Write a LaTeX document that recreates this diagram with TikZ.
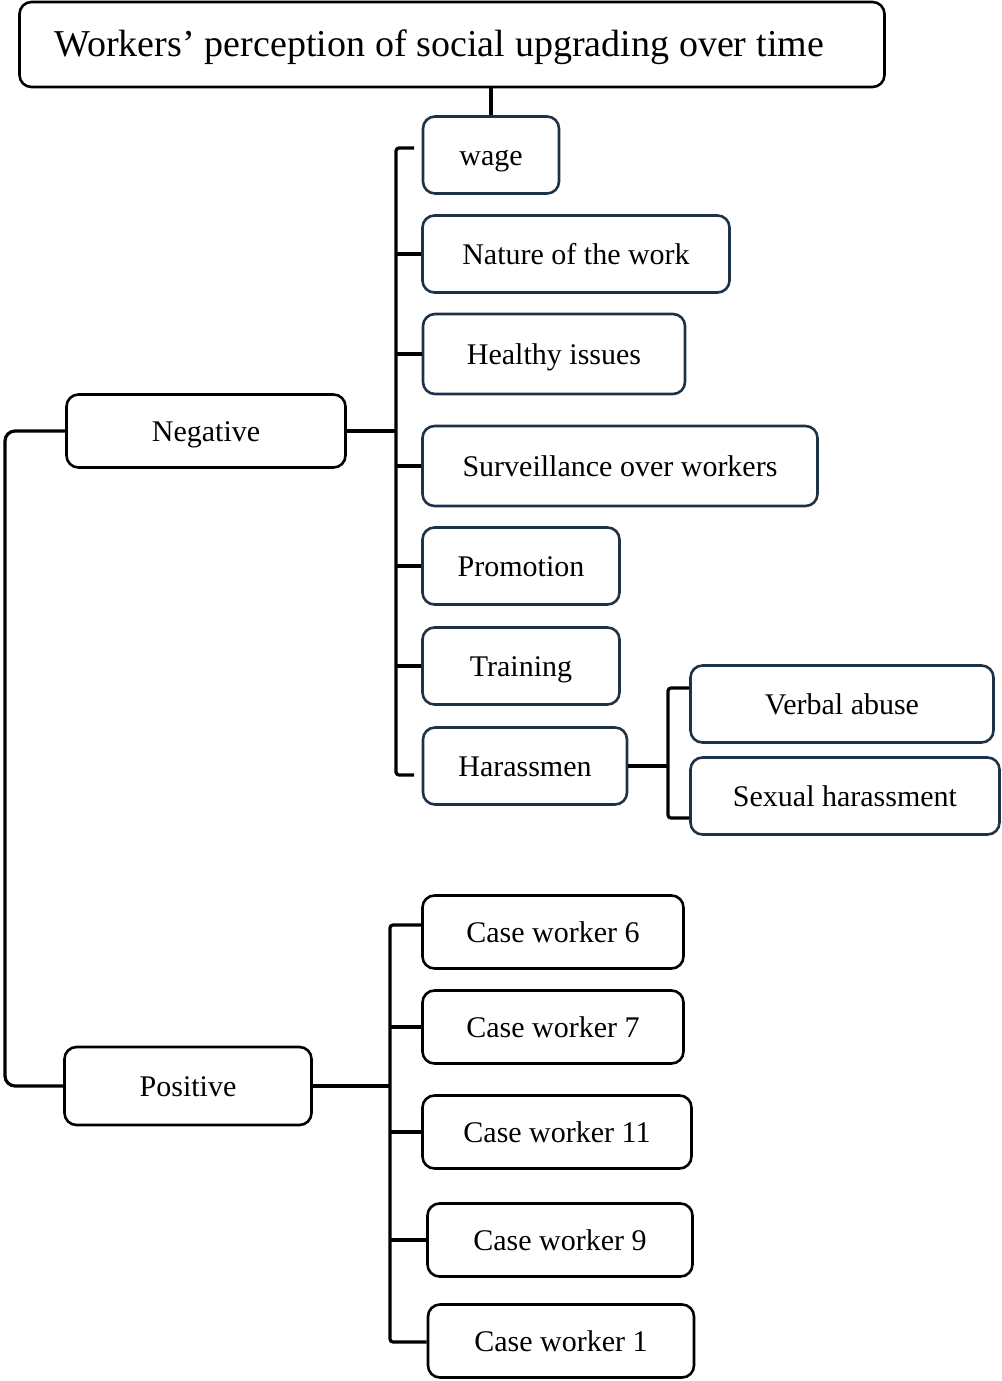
\documentclass[tikz,border=0pt]{standalone}
\usepackage{fontspec}
\setmainfont{Liberation Serif}
\usepackage{xcolor}
\usepackage{tikz}
\usetikzlibrary{positioning}
\definecolor{navyline}{RGB}{30,50,70}
\def\lw{2.6pt}
\def\negX{396}
\def\posX{390}

\begin{document}
\begin{tikzpicture}[
    x=1pt, y=-1pt,
    line width=\lw,
    every node/.style={draw, rounded corners=12pt, inner sep=0pt, text height=24pt, text depth=4pt,
                       font=\fontsize{30}{34}\selectfont},
    subbox/.style={draw=navyline, minimum height=77},
    casebox/.style={draw=black, minimum height=73},
    sidebox/.style={draw=black, minimum height=75},
    link/.style={line width=3.2pt}
]
\useasboundingbox (0,0) rectangle (1001,1381);

% root
\node[minimum width=865, minimum height=85, text width=795, inner xsep=35, align=left,
      text height=30pt, text depth=6pt, font=\fontsize{38}{42}\selectfont] (title) at (452,44.5)
      {\spaceskip=0.26em plus 0.05em Workers’ perception of social upgrading over time};

% the two sides
\node[sidebox, minimum width=279, minimum height=73] (neg) at (206,431) {Negative};
\node[sidebox, minimum width=247, minimum height=78] (pos) at (188,1086) {Positive};

% negative items
\node[subbox, minimum width=136] (wage) at (491,155) {wage};
\node[subbox, minimum width=307] (nature) at (576,254) {Nature of the work};
\node[subbox, minimum width=262, minimum height=80] (health) at (554,354) {Healthy issues};
\node[subbox, minimum width=395, minimum height=80] (surv) at (620,466) {Surveillance over workers};
\node[subbox, minimum width=197] (promo) at (521,566) {Promotion};
\node[subbox, minimum width=197] (train) at (521,666) {Training};
\node[subbox, minimum width=204] (harass) at (525,766) {Harassmen};
\node[subbox, minimum width=303] (verbal) at (842,704) {Verbal abuse};
\node[subbox, minimum width=309] (sexual) at (845,796) {Sexual harassment};

% positive items
\node[casebox, minimum width=261] (cw6) at (553,932) {Case worker 6};
\node[casebox, minimum width=261] (cw7) at (553,1027) {Case worker 7};
\node[casebox, minimum width=269] (cw11) at (557,1132) {Case worker 11};
\node[casebox, minimum width=265] (cw9) at (560,1240) {Case worker 9};
\node[casebox, minimum width=266] (cw1) at (561,1341) {Case worker 1};

\coordinate (ntop) at (\negX,148);
\coordinate (nbot) at (\negX,775);
\coordinate (ntopend) at (414,148);
\coordinate (nbotend) at (414,775);
\coordinate (htop) at (668,688);
\coordinate (hbot) at (668,818);
\coordinate (ptop) at (\posX,925);
\coordinate (pbot) at (\posX,1342);
\coordinate (lbus) at (5,760);

\draw[link] (wage.north) -- (wage.north |- title.south);
\draw[link, rounded corners=10pt] (neg.west) -| (lbus) |- (pos.west);

% negative bracket
\draw[link, rounded corners=3pt] (ntopend) -- (ntop) -- (nbot) -- (nbotend);
\draw[link] (neg.east) -- (neg.east -| ntop);
\foreach \n in {nature, health, surv, promo, train}
    \draw[link] (\n.west) -- (\n.west -| ntop);

% harassment bracket
\draw[link, rounded corners=3pt] (verbal.west |- htop) -- (htop) -- (hbot) -- (sexual.west |- hbot);
\draw[link] (harass.east) -- (harass.east -| htop);

% positive bracket
\draw[link, rounded corners=3pt] (cw6.west |- ptop) -- (ptop) -- (pbot) -- (cw1.west |- pbot);
\draw[link] (pos.east) -- (pos.east -| ptop);
\foreach \n in {cw7, cw11, cw9}
    \draw[link] (\n.west) -- (\n.west -| ptop);
\end{tikzpicture}
\end{document}
